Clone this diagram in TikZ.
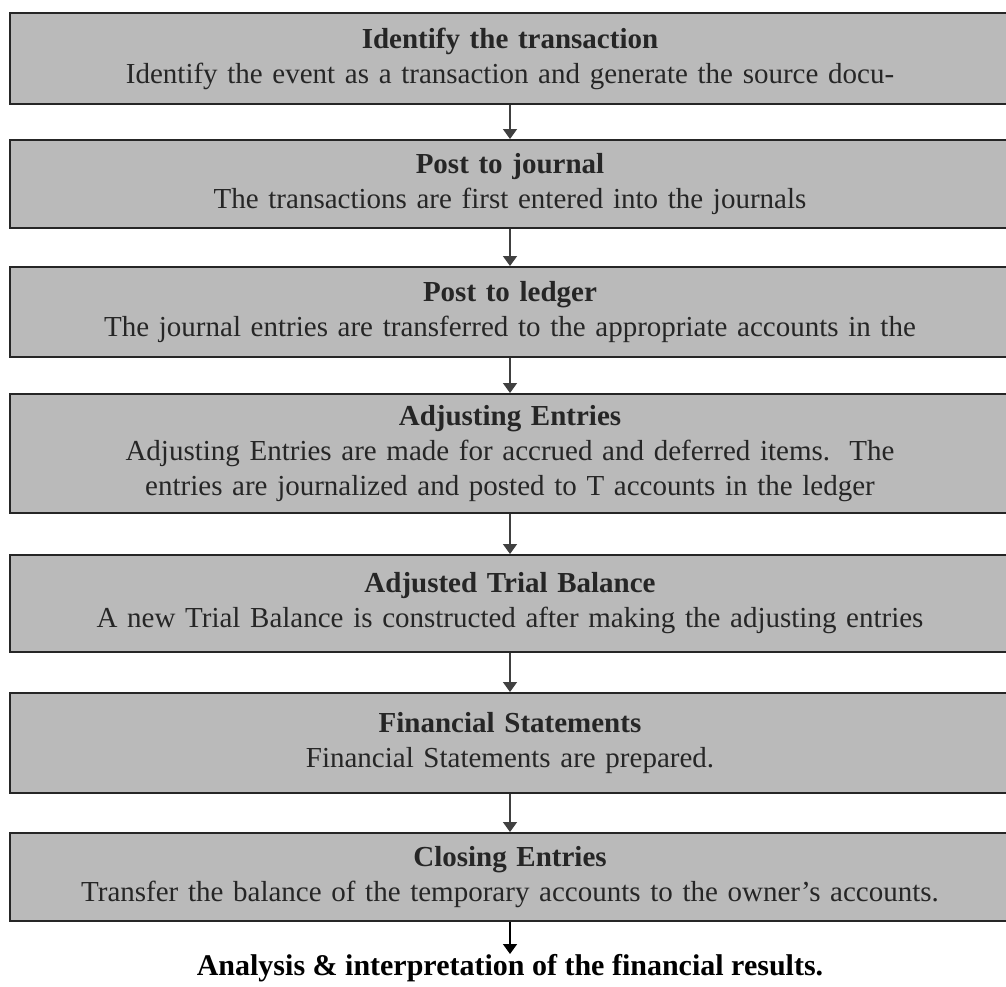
\documentclass[tikz,border=0pt]{standalone}
\usepackage{fontspec}
\setmainfont{Liberation Serif}
\usetikzlibrary{positioning,arrows.meta}
\begin{document}
\begin{tikzpicture}[x=1pt,y=1pt,node distance=34pt,>={Triangle[width=14pt,length=10pt]}]
  \tikzstyle{stage}=[draw=black!85,line width=2pt,fill=black!27,minimum width=1000pt,text width=990pt,align=center,inner sep=0pt,text=black!85,font=\fontsize{29}{35}\selectfont]
  \tikzstyle{link}=[->,line width=1.6pt,draw=black!75,fill=black!45]
  \tikzstyle{result}=[inner sep=0pt,font=\fontsize{30}{34}\selectfont\bfseries]

  \useasboundingbox (0,0) rectangle (1006,-986);

  \node [stage,minimum height=91pt] (s1) at (510,-58.5)
    {\textbf{Identify the transaction}\\Identify the event as a transaction and generate the source docu-};

  \node [stage,minimum height=88pt] (s2) [below=34pt of s1]
    {\textbf{Post to journal}\\The transactions are first entered into the journals};

  \node [stage,minimum height=90pt] (s3) [below=37pt of s2]
    {\textbf{Post to ledger}\\The journal entries are transferred to the appropriate accounts in the};

  \node [stage,minimum height=119pt] (s4) [below=35pt of s3]
    {\textbf{Adjusting Entries}\\Adjusting Entries are made for accrued and deferred items.\ \ The\\entries are journalized and posted to T accounts in the ledger};

  \node [stage,minimum height=97pt] (s5) [below=40pt of s4]
    {\textbf{Adjusted Trial Balance}\\A new Trial Balance is constructed after making the adjusting entries};

  \node [stage,minimum height=100pt] (s6) [below=39pt of s5]
    {\textbf{Financial Statements}\\Financial Statements are prepared.};

  \node [stage,minimum height=88pt] (s7) [below=38pt of s6]
    {\textbf{Closing Entries}\\Transfer the balance of the temporary accounts to the owner's accounts.};

  \node [result] (res) at (510,-968) {Analysis \& interpretation of the financial results.};

  % arrows between the stages
  \foreach \a/\b in {s1/s2,s2/s3,s3/s4,s4/s5,s5/s6,s6/s7}
    \draw [link] (\a) -- (\b);
  \draw [->,line width=1.6pt,black] (s7.south) -- (res.north);

\end{tikzpicture}
\end{document}
